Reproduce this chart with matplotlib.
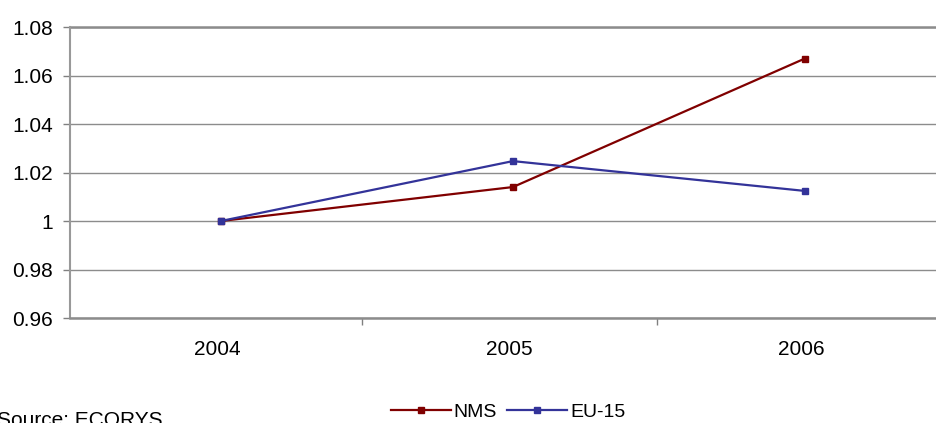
import numpy as np
import matplotlib
matplotlib.use("Agg")
from matplotlib import pyplot as plt

years = ["2004", "2005", "2006"]
nms = [1.000, 1.014, 1.067]
eu15 = [1.000, 1.0247, 1.0124]
yticks = [0.96, 0.98, 1.00, 1.02, 1.04, 1.06, 1.08]
ylabels = ["0.96", "0.98", "1", "1.02", "1.04", "1.06", "1.08"]

plt.rcParams['font.family'] = ['Liberation Sans', 'DejaVu Sans']

W, H = 936, 423
fig = plt.figure(figsize=(W / 100, H / 100), dpi=100)
# plot area runs off the right edge of the figure
left, right, top, bottom = 70, 950, 27, 318
ax = fig.add_axes([left / W, 1 - bottom / H, (right - left) / W, (bottom - top) / H])

x = np.arange(len(years))
ax.plot(x, nms, color='#800000', lw=1.6, marker='s', ms=4.5, label='NMS', clip_on=False)
ax.plot(x, eu15, color='#333399', lw=1.6, marker='s', ms=4.5, label='EU-15', clip_on=False)

ax.set_xlim(-0.517, 2.497)
ax.set_ylim(0.96, 1.08)
ax.set_yticks(yticks)
ax.set_yticklabels(ylabels, fontsize=15)
ax.yaxis.grid(True, color='#8c8c8c', lw=1.0)
ax.set_axisbelow(True)

# category labels centred, tick marks between categories
ax.set_xticks([0.483, 1.493])
ax.set_xticklabels([])
ax.set_xticks(x - 0.012, minor=True)
ax.set_xticklabels(years, minor=True, fontsize=15)
ax.tick_params(axis='x', which='minor', length=0, pad=16)
ax.tick_params(axis='x', which='major', length=5, color='#808080', width=1)
ax.tick_params(axis='y', length=5, color='#808080', width=1, pad=7)

for s in ['top', 'right']:
    ax.spines[s].set_visible(False)
ax.spines['left'].set_color('#999999')
ax.spines['left'].set_linewidth(1.5)
ax.spines['bottom'].set_color('#8c8c8c')
ax.spines['bottom'].set_linewidth(1.8)
ax.plot([0, 1], [1, 1], transform=ax.transAxes, color='#8c8c8c', lw=1.8, clip_on=False)

fig.legend(loc='center', bbox_to_anchor=(508 / W, 1 - 412 / H), ncol=2, frameon=False,
           fontsize=14, handlelength=3.1, handletextpad=0.15, columnspacing=0.5,
           borderaxespad=0, borderpad=0)

fig.text(-3 / W, 1 - 426 / H, "Source: ECORYS.", fontsize=15, ha='left', va='baseline')

fig.savefig('out.png', dpi=100)
